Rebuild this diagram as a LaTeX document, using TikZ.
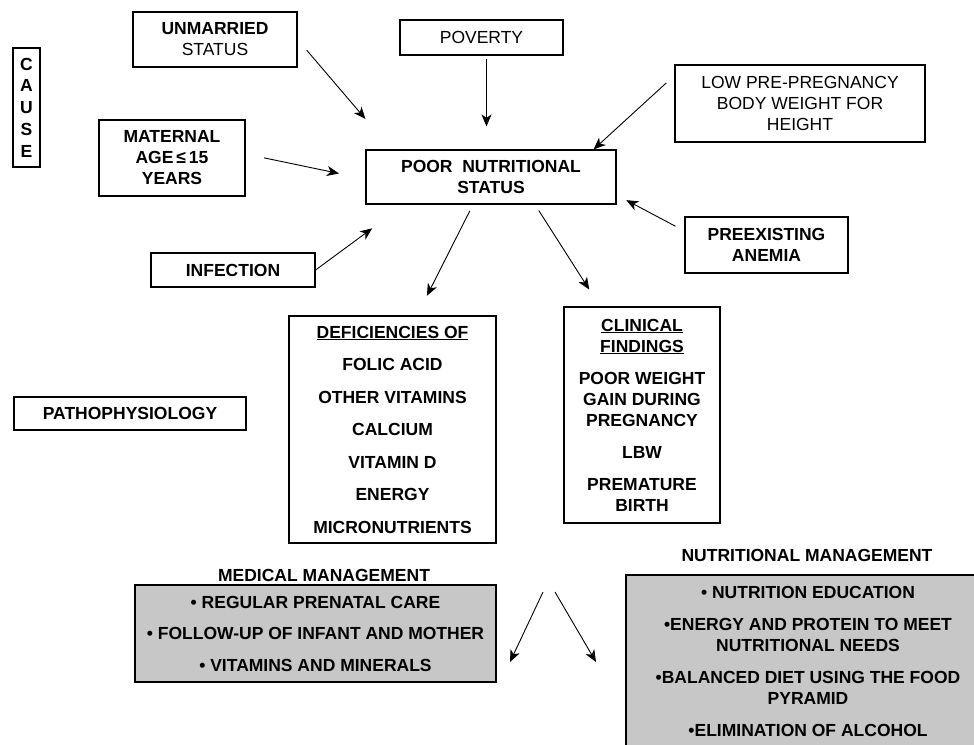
\documentclass[tikz,border=0pt]{standalone}
\usepackage{fontspec}
\setmainfont{Liberation Sans}
\usepackage{tikz}
\usetikzlibrary{arrows.meta, positioning}

\begin{document}
\begin{tikzpicture}[x=1pt, y=-1pt,
        every node/.style={font=\fontsize{17.5}{21}\selectfont},
        box/.style={draw, line width=1.2pt, align=center, inner sep=0pt},
        bold/.style={font=\fontsize{17.5}{21}\selectfont\bfseries},
        shaded/.style={box, fill=black!22},
        arr/.style={-{Stealth[length=12pt, width=10pt, inset=3.5pt]}, line width=0.9pt}]
        \useasboundingbox (0,0) rectangle (974,744);
        \clip (0,0) rectangle (974,744);

        % causes
        \node[box, font=\fontsize{17.5}{21.7}\selectfont\bfseries, minimum width=27pt, minimum height=119pt] (cause) at (26.5,107.5) {C\\A\\U\\S\\E};
        \node[box, minimum width=164pt, minimum height=55pt] (unmarried) at (215,39.5) {\textbf{UNMARRIED}\\STATUS};
        \node[box, minimum width=163pt, minimum height=35pt] (poverty) at (481.5,37.5) {POVERTY};
        \node[box, minimum width=250pt, minimum height=77pt] (lowweight) at (800,103.5) {LOW PRE-PREGNANCY\\BODY WEIGHT FOR\\HEIGHT};
        \node[box, bold, minimum width=146pt, minimum height=76pt] (maternal) at (172,158) {MATERNAL\\AGE\,≤\,15\\YEARS};
        \node[box, bold, minimum width=250pt, minimum height=54pt] (poor) at (491,177) {POOR~~NUTRITIONAL\\STATUS};
        \node[box, bold, minimum width=163pt, minimum height=56pt] (anemia) at (766.5,245) {PREEXISTING\\ANEMIA};
        \node[box, bold, minimum width=164pt, minimum height=34pt] (infection) at (233,270) {INFECTION};

        % pathophysiology
        \node[box, bold, minimum width=232pt, minimum height=33pt] (patho) at (130,413.5) {PATHOPHYSIOLOGY};
        \node[box, bold, minimum width=207pt, minimum height=227pt] (deficiency) at (392.5,429.5)
            {\underline{DEFICIENCIES OF}\\[11.5pt] FOLIC ACID\\[11.5pt] OTHER VITAMINS\\[11.5pt] CALCIUM\\[11.5pt] VITAMIN D\\[11.5pt] ENERGY\\[11.5pt] MICRONUTRIENTS};
        \node[box, bold, minimum width=156pt, minimum height=216pt] (clinical) at (642,415)
            {\underline{CLINICAL}\\\underline{FINDINGS}\\[11pt] POOR WEIGHT\\GAIN DURING\\PREGNANCY\\[11pt] LBW\\[11pt] PREMATURE\\BIRTH};

        % management
        \node[bold] (medlabel) at (324,575) {MEDICAL MANAGEMENT};
        \node[shaded, bold, minimum width=361pt, minimum height=97pt] (medical) at (315.5,633.5)
            {• REGULAR PRENATAL CARE\\[10.5pt] • FOLLOW-UP OF INFANT AND MOTHER\\[10.5pt] • VITAMINS AND MINERALS};
        \node[bold] (nutlabel) at (807,555) {NUTRITIONAL MANAGEMENT};
        \node[shaded, bold, minimum width=364pt, minimum height=173pt] (nutrition) at (808,661.5)
            {• NUTRITION EDUCATION\\[11pt] •ENERGY AND PROTEIN TO MEET\\NUTRITIONAL NEEDS\\[11pt] •BALANCED DIET USING THE FOOD\\PYRAMID\\[11pt] •ELIMINATION OF ALCOHOL};

        \coordinate (forkL) at (543,592);
        \coordinate (forkR) at (555,592);
        \coordinate (medtip) at (510,662);
        \coordinate (nuttip) at (596,662);

        \draw[arr, shorten <=14pt, shorten >=40pt] (unmarried.east) to ([xshift=26pt]poor.north west);
        \draw[arr, shorten <=3pt, shorten >=23pt] ([xshift=5pt]poverty.south) to ([xshift=-4.5pt]poor.north);
        \draw[arr, shorten <=11pt] ([yshift=28pt]lowweight.west) to ([xshift=-23pt]poor.north east);
        \draw[arr, shorten <=19pt, shorten >=27pt] ([yshift=4pt]maternal.east) to ([yshift=-2pt]poor.west);
        \draw[arr, shorten >=40pt] (infection.east) to ([xshift=39pt]poor.south west);
        \draw[arr, shorten <=10pt, shorten >=11pt] ([yshift=14pt]anemia.west) to ([yshift=-18pt]poor.east);
        \draw[arr, shorten <=7pt, shorten >=22pt] ([xshift=-18pt]poor.south) to ([xshift=24.5pt]deficiency.north);
        \draw[arr, shorten <=7pt, shorten >=20pt] ([xshift=44pt]poor.south) to ([xshift=-42pt]clinical.north);
        \draw[arr] (forkL) to (medtip);
        \draw[arr] (forkR) to (nuttip);
\end{tikzpicture}
\end{document}
